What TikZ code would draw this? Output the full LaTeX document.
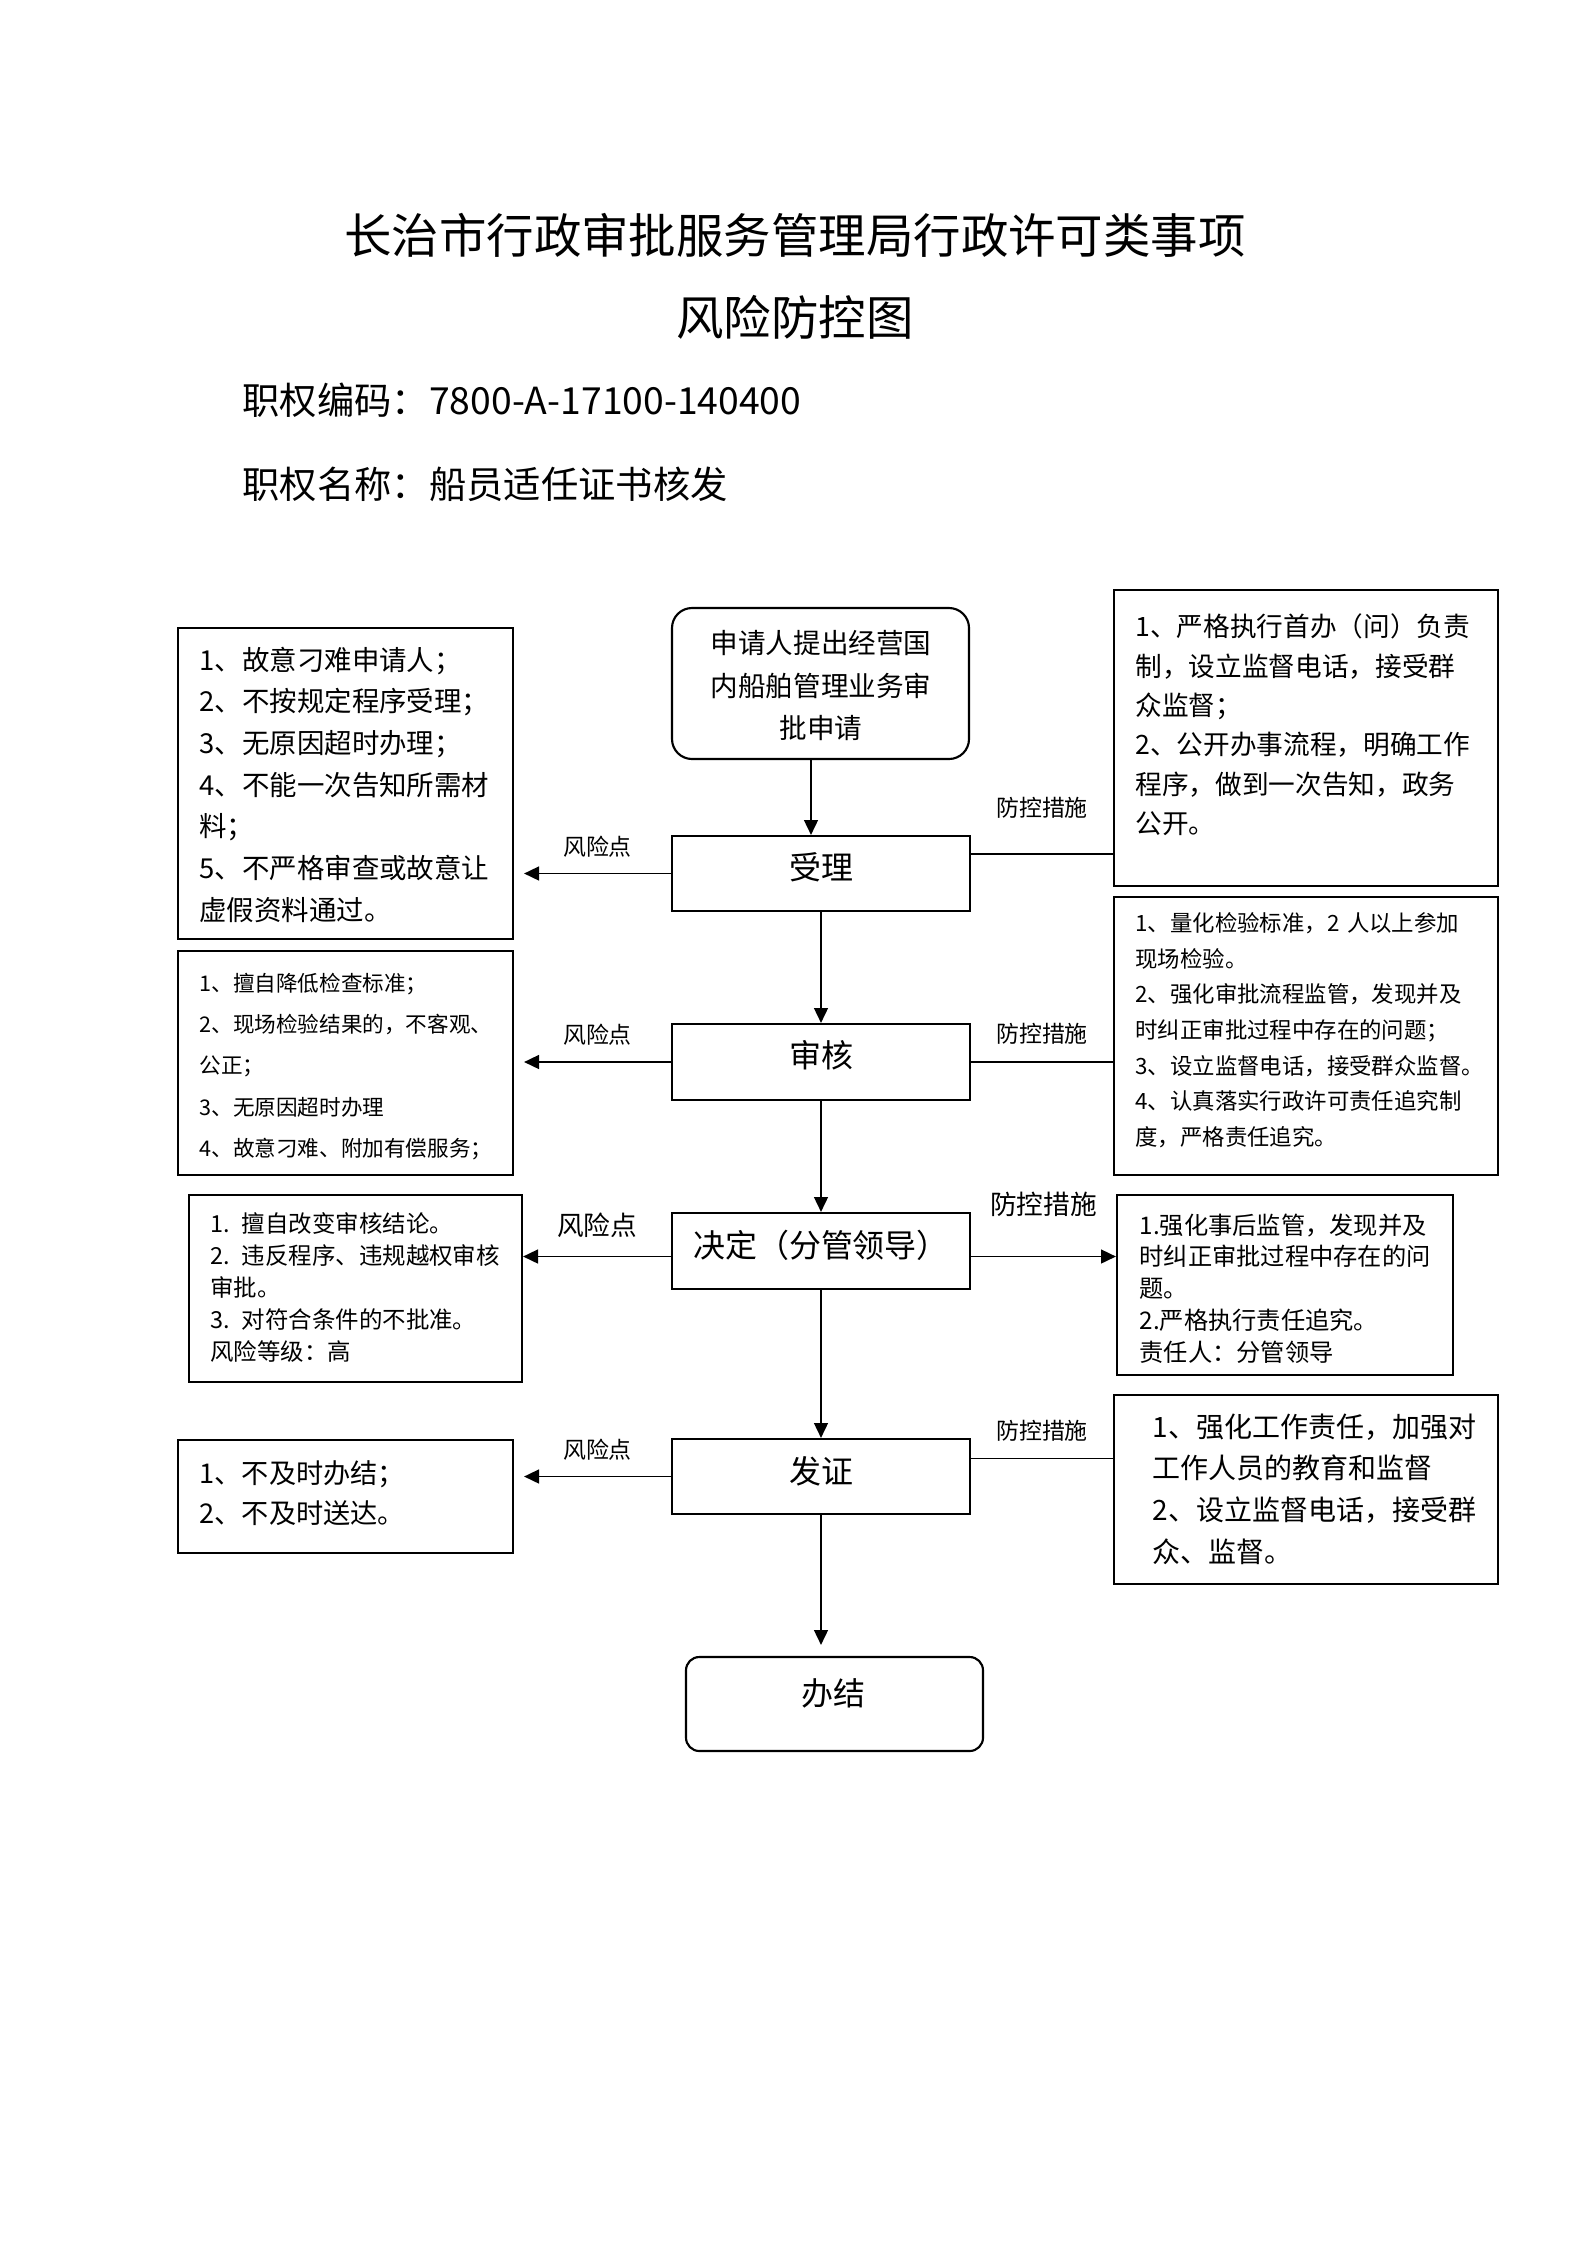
\documentclass[tikz,border=0pt]{standalone}
\usepackage{fontspec}
\setmainfont{Noto Sans CJK SC}
\usetikzlibrary{arrows.meta,fit,calc}

\tikzset{
  kuang/.style={draw, line width=0.8pt, inner sep=0pt},
  yuan/.style={kuang, rounded corners=7.5pt},
  liucheng/.style={font=\fontsize{12}{14}\selectfont, anchor=base, inner sep=0pt},
  wenzi/.style={anchor=base west, inner sep=0pt, align=left, text width=140pt},
  jt/.style={line width=0.7pt, -{Triangle[length=5.6pt,width=5.2pt]}},
  xian/.style={line width=0.7pt},
  biaozhu/.style={font=\fontsize{8.6}{10}\selectfont},
  dabiaozhu/.style={font=\fontsize{10}{12}\selectfont}
}

\begin{document}
\begin{tikzpicture}[x=0.3751pt, y=-0.3751pt]
    \useasboundingbox (0,0) rectangle (1587,2245);
    % 标题
    \node[font=\fontsize{17.8}{22}\selectfont, anchor=base] (bt1) at (795,253) {长治市行政审批服务管理局行政许可类事项};
    \node[font=\fontsize{17.8}{22}\selectfont, anchor=base] (bt2) at (795,335) {风险防控图};
    \node[font=\fontsize{14}{17}\selectfont, anchor=base west, inner sep=0pt] (bm) at (242,414) {职权编码：7800-A-17100-140400};
    \node[font=\fontsize{14}{17}\selectfont, anchor=base west, inner sep=0pt] (mc) at (242,498) {职权名称：船员适任证书核发};

    % 流程框
    \node[yuan, fit={(672,608) (969,759)}] (sq) {};
    \node[font=\fontsize{10.35}{15.9}\selectfont, anchor=base, inner sep=0pt, align=center, text width=120pt] (sqw) at (821,653.8) {申请人提出经营国\\内船舶管理业务审\\批申请};
    \node[kuang, fit={(672,836) (970,911)}] (sl) {};
    \node[liucheng] (slw) at (821,879) {受理};
    \node[kuang, fit={(672,1024) (970,1100)}] (sh) {};
    \node[liucheng] (shw) at (821,1067.8) {审核};
    \node[kuang, fit={(672,1213) (970,1289)}] (jd) {};
    \node[liucheng] (jdw) at (821,1257.2) {决定（分管领导）};
    \node[kuang, fit={(672,1439) (970,1514)}] (fz) {};
    \node[liucheng] (fzw) at (821,1483.9) {发证};
    \node[kuang, rounded corners=5pt, fit={(686,1657) (983,1751)}] (bj) {};
    \node[liucheng] (bjw) at (833.5,1705.5) {办结};

    \draw[jt] ($(sq.south)+(-9.5,0)$) -- ($(sq.south |- sl.north)+(-9.5,0)$);
    \draw[jt] (sl) -- (sh);
    \draw[jt] (sh) -- (jd);
    \draw[jt] (jd) -- (fz);
    \draw[jt] (fz.south) -- ($(fz.south |- bj.north)+(0,-11)$);

    % 风险点
    \node[kuang, fit={(178,628) (513,939)}] (fx1) {};
    \node[kuang, fit={(178,951) (513,1175)}] (fx2) {};
    \node[kuang, fit={(189,1195) (522,1382)}] (fx3) {};
    \node[kuang, fit={(178,1440) (513,1553)}] (fx4) {};

    \node[wenzi, font=\fontsize{10.3}{15.63}\selectfont] (fx1w) at (199,670) {1、故意刁难申请人；\\2、不按规定程序受理；\\3、无原因超时办理；\\4、不能一次告知所需材\\料；\\5、不严格审查或故意让\\虚假资料通过。};
    \node[wenzi, font=\fontsize{8.1}{15.47}\selectfont] (fx2w) at (199,991.5) {1、擅自降低检查标准；\\2、现场检验结果的，不客观、\\公正；\\3、无原因超时办理\\4、故意刁难、附加有偿服务；};
    \node[wenzi, font=\fontsize{8.8}{12.04}\selectfont] (fx3w) at (210,1232) {1. 擅自改变审核结论。\\2. 违反程序、违规越权审核\\审批。\\3. 对符合条件的不批准。\\风险等级：高};
    \node[wenzi, font=\fontsize{10.2}{15}\selectfont] (fx4w) at (199,1483.6) {1、不及时办结；\\2、不及时送达。};

    \draw[jt] (sl.west) -- ($(fx1.east |- sl.west)+(10,0)$) node[midway, above=2.4pt, biaozhu] (fxd1) {风险点};
    \draw[jt] (sh.west) -- ($(fx2.east |- sh.west)+(10,0)$) node[midway, above=2.4pt, biaozhu] (fxd2) {风险点};
    \draw[jt] ($(jd.west)+(0,5.5)$) -- ($(fx3.east |- jd.west)+(0,5.5)$) node[midway, above=3.4pt, dabiaozhu] (fxd3) {风险点};
    \draw[jt] (fz.west) -- ($(fx4.east |- fz.west)+(10,0)$) node[midway, above=2.4pt, biaozhu] (fxd4) {风险点};

    % 防控措施
    \node[kuang, fit={(1114,590) (1498,886)}] (fk1) {};
    \node[kuang, fit={(1114,897) (1498,1175)}] (fk2) {};
    \node[kuang, fit={(1117,1195) (1453,1375)}] (fk3) {};
    \node[kuang, fit={(1114,1395) (1498,1584)}] (fk4) {};

    \node[wenzi, font=\fontsize{10}{14.75}\selectfont] (fk1w) at (1135,636.8) {1、严格执行首办（问）负责\\制，设立监督电话，接受群\\众监督；\\2、公开办事流程，明确工作\\程序，做到一次告知，政务\\公开。};
    \node[wenzi, font=\fontsize{8.4}{13.34}\selectfont] (fk2w) at (1135,931.8) {1、量化检验标准，2 人以上参加\\现场检验。\\2、强化审批流程监管，发现并及\\时纠正审批过程中存在的问题；\\3、设立监督电话，接受群众监督。\\4、认真落实行政许可责任追究制\\度，严格责任追究。};
    \node[wenzi, font=\fontsize{9.1}{11.9}\selectfont] (fk3w) at (1139,1234.2) {1.强化事后监管，发现并及\\时纠正审批过程中存在的问\\题。\\2.严格执行责任追究。\\责任人：分管领导};
    \node[wenzi, font=\fontsize{10.5}{15.6}\selectfont] (fk4w) at (1152,1437.3) {1、强化工作责任，加强对\\工作人员的教育和监督\\2、设立监督电话，接受群\\众、监督。};

    \draw[xian] ($(sl.east)+(0,-19.5)$) -- ($(fk1.west |- sl.east)+(0,-19.5)$) node[midway, above=9.8pt, biaozhu] (fkc1) {防控措施};
    \draw[xian] (sh.east) -- (fk2.west |- sh.east) node[midway, above=3pt, biaozhu] (fkc2) {防控措施};
    \draw[jt] ($(jd.east)+(0,5.5)$) -- ($(fk3.west |- jd.east)+(0,5.5)$) node[midway, above=11.3pt, dabiaozhu] (fkc3) {防控措施};
    \draw[xian] ($(fz.east)+(0,-18)$) -- ($(fk4.west |- fz.east)+(0,-18)$) node[midway, above=2.7pt, biaozhu] (fkc4) {防控措施};
\end{tikzpicture}
\end{document}
